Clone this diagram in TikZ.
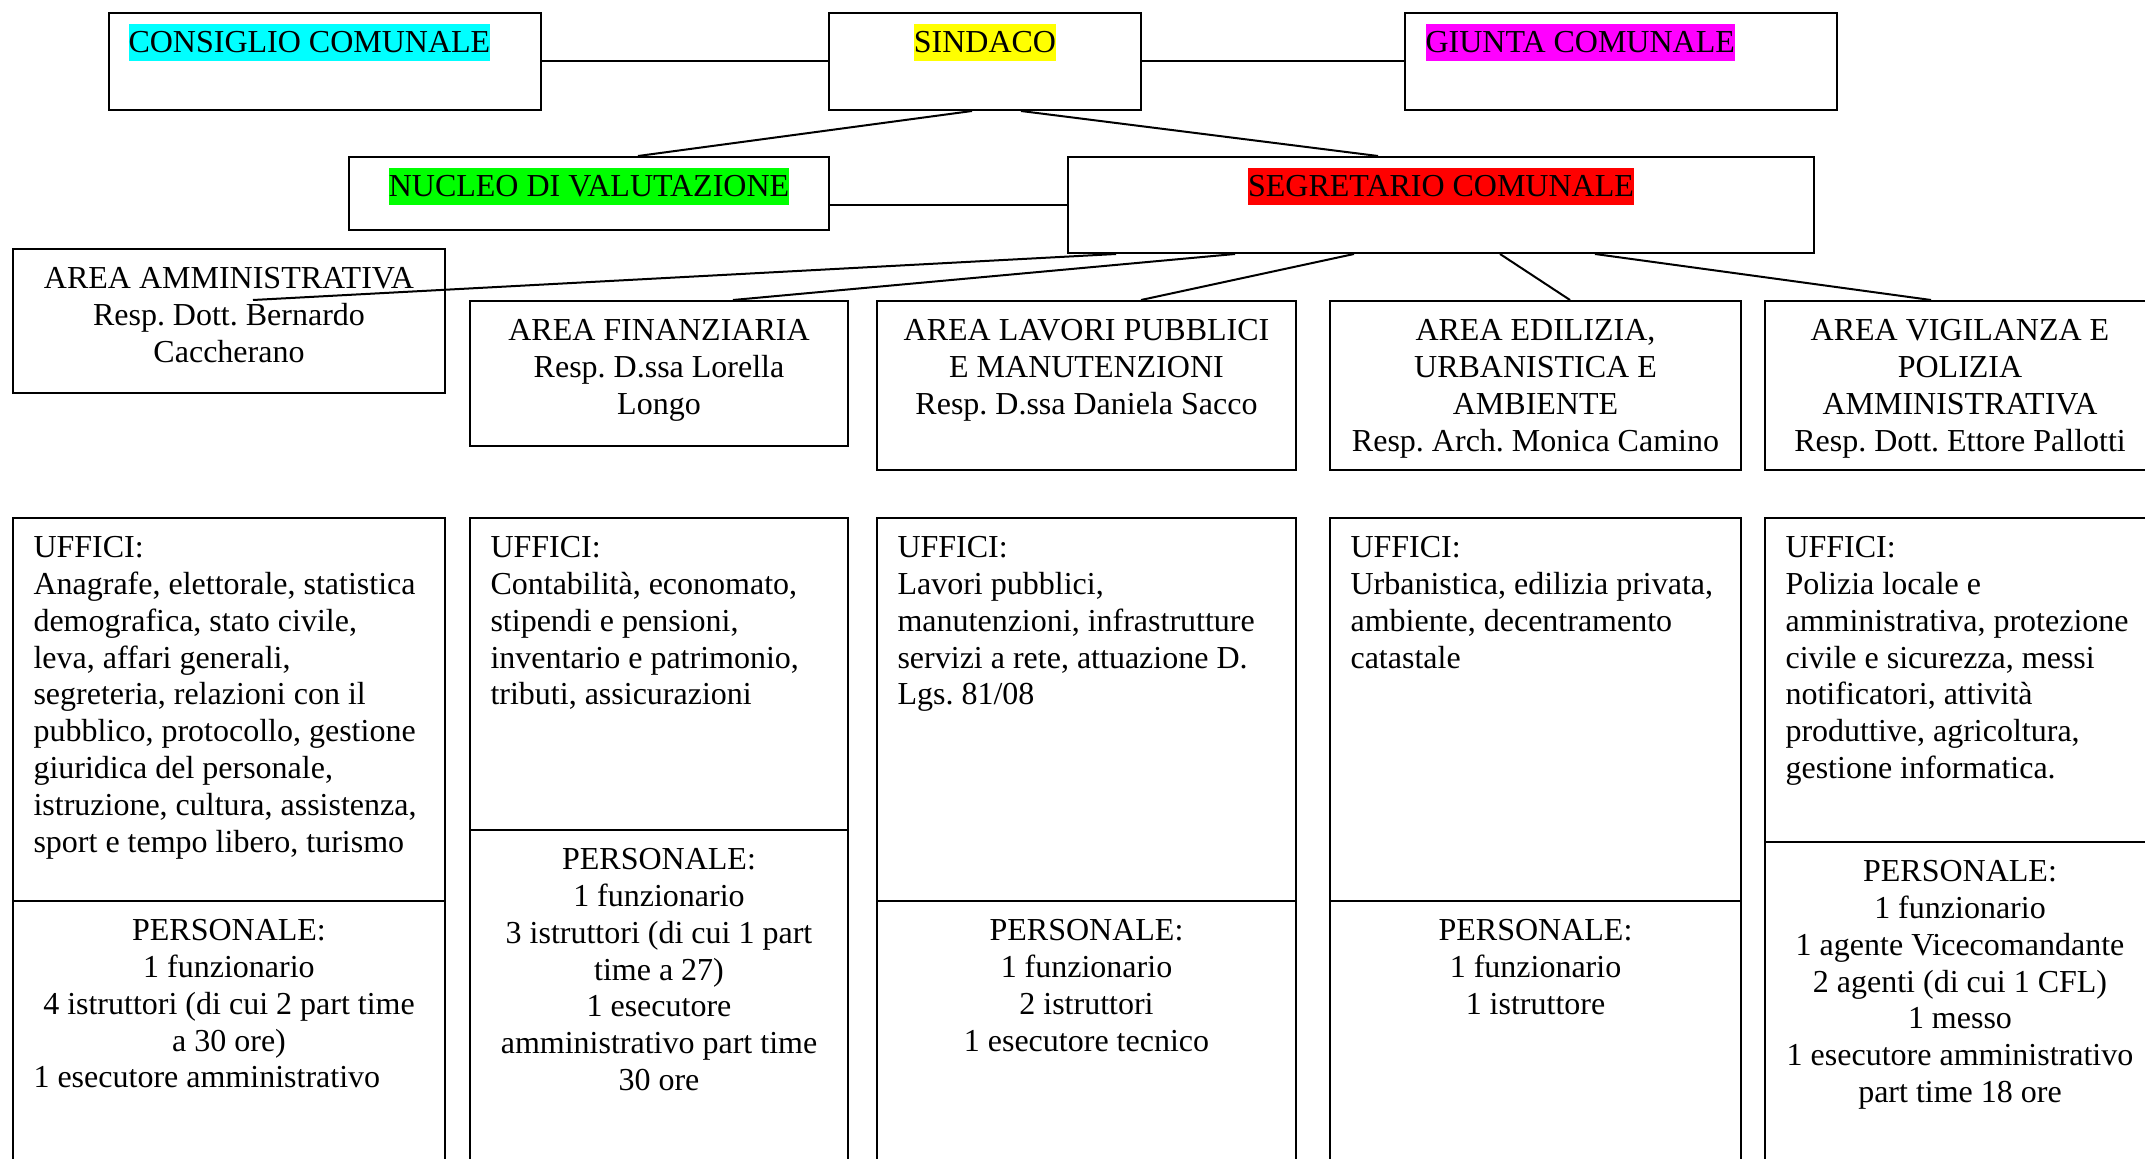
\documentclass[tikz,border=0pt]{standalone}
\usepackage{fontspec}
\setmainfont{Liberation Serif}
\usetikzlibrary{calc}
\usetikzlibrary{positioning}
\frenchspacing

\definecolor{hlcyan}{RGB}{0,255,255}
\definecolor{hlyellow}{RGB}{255,255,0}
\definecolor{hlmagenta}{RGB}{255,0,255}
\definecolor{hlgreen}{RGB}{0,255,0}
\definecolor{hlred}{RGB}{255,0,0}
\newcommand{\pxu}{0.375pt}

\tikzset{
  box/.style={draw, line width=0.75pt, inner sep=0pt, anchor=north west},
  txt/.style={inner sep=0pt, font=\fontsize{12}{13.8}\selectfont},
  hl/.style={txt, text height=10.8pt, text depth=3.1pt},
  wire/.style={line width=0.75pt}
}

\begin{document}
\begin{tikzpicture}[x=0.375pt, y=-0.375pt]
\useasboundingbox (0,0) rectangle (2145,1159);
\clip (0,0) rectangle (2145,1159);

% organi di vertice
\node[box, minimum width=432*\pxu, minimum height=97*\pxu] (cons) at (108,12) {};
\node[box, minimum width=312*\pxu, minimum height=97*\pxu] (sind) at (828,12) {};
\node[box, minimum width=432*\pxu, minimum height=97*\pxu] (giunta) at (1404,12) {};
\node[box, minimum width=480*\pxu, minimum height=73*\pxu] (nucleo) at (348,156) {};
\node[box, minimum width=746*\pxu, minimum height=96*\pxu] (segr) at (1067,156) {};

\node[hl, fill=hlcyan, anchor=north west] (consT) at (128,23) {CONSIGLIO COMUNALE};
\node[hl, fill=hlyellow, anchor=north] (sindT) at ($(sind.north)+(0,11)$) {SINDACO};
\node[hl, fill=hlmagenta, anchor=north west] (giuntaT) at (1425,23) {GIUNTA COMUNALE};
\node[hl, fill=hlgreen, anchor=north] (nucleoT) at ($(nucleo.north)+(0,11)$) {NUCLEO DI VALUTAZIONE};
\node[hl, fill=hlred, anchor=north] (segrT) at ($(segr.north)+(0,11)$) {SEGRETARIO COMUNALE};

% aree
\node[box, minimum width=432*\pxu, minimum height=144*\pxu] (amm) at (12,248) {};
\node[box, minimum width=378*\pxu, minimum height=145*\pxu] (fin) at (469,300) {};
\node[box, minimum width=419*\pxu, minimum height=169*\pxu] (lav) at (876,300) {};
\node[box, minimum width=411*\pxu, minimum height=169*\pxu] (edil) at (1329,300) {};
\node[box, minimum width=390*\pxu, minimum height=169*\pxu] (vig) at (1764,300) {};

\node[txt, align=center, anchor=north] (ammT) at ($(amm.north)+(0,19)$)
  {AREA AMMINISTRATIVA\\Resp. Dott. Bernardo\\Caccherano};
\node[txt, align=center, anchor=north] (finT) at ($(fin.north)+(0,19)$)
  {AREA FINANZIARIA\\Resp. D.ssa Lorella\\Longo};
\node[txt, align=center, anchor=north] (lavT) at ($(lav.north)+(0,19)$)
  {AREA LAVORI PUBBLICI\\E MANUTENZIONI\\Resp. D.ssa Daniela Sacco};
\node[txt, align=center, anchor=north] (edilT) at ($(edil.north)+(0,19)$)
  {AREA EDILIZIA,\\URBANISTICA E\\AMBIENTE\\Resp. Arch. Monica Camino};
\node[txt, align=center, anchor=north] (vigT) at ($(vig.north)+(0,19)$)
  {AREA VIGILANZA E\\POLIZIA\\AMMINISTRATIVA\\Resp. Dott. Ettore Pallotti};

% uffici e personale
\foreach \n/\x/\w/\s in {1/12/432/900, 2/469/378/829, 3/876/419/900, 4/1329/411/900, 5/1764/390/841} {
  \node[box, minimum width=\w*\pxu, minimum height={(\s-517)*\pxu}] (uff\n) at (\x,517) {};
  \node[box, minimum width=\w*\pxu, minimum height={(1200-\s)*\pxu}] (pers\n) at (\x,\s) {};
}

\node[txt, align=left, anchor=north west] (uff1T) at ($(uff1.north west)+(21,19)$)
  {UFFICI:\\Anagrafe, elettorale, statistica\\demografica, stato civile,\\leva, affari generali,\\segreteria, relazioni con il\\pubblico, protocollo, gestione\\giuridica del personale,\\istruzione, cultura, assistenza,\\sport e tempo libero, turismo};
\node[txt, align=left, anchor=north west] (uff2T) at ($(uff2.north west)+(21,19)$)
  {UFFICI:\\Contabilità, economato,\\stipendi e pensioni,\\inventario e patrimonio,\\tributi, assicurazioni};
\node[txt, align=left, anchor=north west] (uff3T) at ($(uff3.north west)+(21,19)$)
  {UFFICI:\\Lavori pubblici,\\manutenzioni, infrastrutture\\servizi a rete, attuazione D.\\Lgs. 81/08};
\node[txt, align=left, anchor=north west] (uff4T) at ($(uff4.north west)+(21,19)$)
  {UFFICI:\\Urbanistica, edilizia privata,\\ambiente, decentramento\\catastale};
\node[txt, align=left, anchor=north west] (uff5T) at ($(uff5.north west)+(21,19)$)
  {UFFICI:\\Polizia locale e\\amministrativa, protezione\\civile e sicurezza, messi\\notificatori, attività\\produttive, agricoltura,\\gestione informatica.};

\node[txt, align=center, anchor=north] (pers1T) at ($(pers1.north)+(0,19)$)
  {PERSONALE:\\1 funzionario\\4 istruttori (di cui 2 part time\\a 30 ore)};
\node[txt, anchor=base west] (pers1L) at (33,1087) {1 esecutore amministrativo};
\node[txt, align=center, anchor=north] (pers2T) at ($(pers2.north)+(0,19)$)
  {PERSONALE:\\1 funzionario\\3 istruttori (di cui 1 part\\time a 27)\\1 esecutore\\amministrativo part time\\30 ore};
\node[txt, align=center, anchor=north] (pers3T) at ($(pers3.north)+(0,19)$)
  {PERSONALE:\\1 funzionario\\2 istruttori\\1 esecutore tecnico};
\node[txt, align=center, anchor=north] (pers4T) at ($(pers4.north)+(0,19)$)
  {PERSONALE:\\1 funzionario\\1 istruttore};
\node[txt, align=center, anchor=north] (pers5T) at ($(pers5.north)+(0,19)$)
  {PERSONALE:\\1 funzionario\\1 agente Vicecomandante\\2 agenti (di cui 1 CFL)\\1 messo\\1 esecutore amministrativo\\part time 18 ore};

% collegamenti
\coordinate (ammEnd) at (253,300);
\draw[wire] (cons) -- (sind);
\draw[wire] (sind) -- (giunta);
\draw[wire] ($(sind.south west)+(144,0)$) -- ($(nucleo.north west)+(290,0)$);
\draw[wire] ($(sind.south west)+(193,0)$) -- ($(segr.north west)+(311,0)$);
\draw[wire] (nucleo.east |- segr.west) -- (segr.west);
\draw[wire] ($(segr.south west)+(49,0)$) -- (ammEnd);
\draw[wire] ($(segr.south west)+(168,0)$) -- ($(fin.north west)+(264,0)$);
\draw[wire] ($(segr.south west)+(287,0)$) -- ($(lav.north west)+(265,0)$);
\draw[wire] ($(segr.south west)+(433,0)$) -- ($(edil.north west)+(241,0)$);
\draw[wire] ($(segr.south west)+(528,0)$) -- ($(vig.north west)+(167,0)$);
\end{tikzpicture}
\end{document}
